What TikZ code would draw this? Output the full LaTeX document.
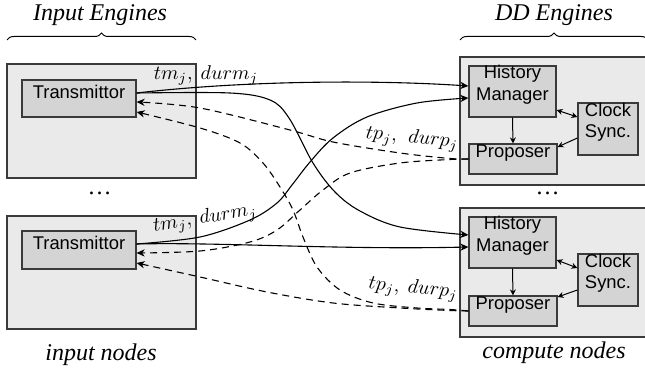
\documentclass[tikz,border=0pt]{standalone}
\usepackage{fontspec}
\setmainfont{Liberation Serif}
\setsansfont{Liberation Sans}
\usetikzlibrary{fit,arrows.meta,decorations.pathreplacing}
\definecolor{outerfill}{HTML}{EAEAEA}
\definecolor{innerfill}{HTML}{D4D4D4}
\definecolor{edgec}{HTML}{3A3A3A}
\begin{document}
\begin{tikzpicture}[x=0.5pt,y=-0.5pt,
 outerbox/.style={draw=edgec, fill=outerfill, line width=0.6pt, inner sep=0pt},
 innerbox/.style={draw=edgec, fill=innerfill, line width=0.6pt, inner sep=0pt, font=\fontsize{9.2}{10.6}\selectfont\sffamily, align=left},
 heading/.style={font=\fontsize{12}{14}\selectfont\itshape, inner sep=0pt},
 lab/.style={font=\fontsize{9.6}{12}\selectfont, inner sep=0pt},
 conn/.style={line width=0.55pt, -{Stealth[length=4pt,width=3.6pt,inset=1.2pt]}},
 back/.style={conn, dash pattern=on 3.5pt off 2.5pt},
 small/.style={line width=0.5pt, -{Stealth[length=3pt,width=3pt]}},
 smalltwo/.style={line width=0.5pt, {Stealth[length=3pt,width=3pt]}-{Stealth[length=3pt,width=3pt]}},
 bracestyle/.style={line width=0.5pt, decorate, decoration={brace, amplitude=3.5pt}}
]
\useasboundingbox (0,0) rectangle (645,373);

% headings and braces
\node[heading] (hIn) at (100,15) {Input Engines};
\node[heading] (hDD) at (554,15) {DD Engines};
\draw[bracestyle] (7,40) -- (196,40);
\draw[bracestyle] (460,40) -- (648,40);

% outer boxes
\node[outerbox, fit={(7,64) (196,178)}] (inA) {};
\node[outerbox, fit={(7,216) (196,329)}] (inB) {};
\node[outerbox, fit={(460,57) (650,185)}] (ddC) {};
\node[outerbox, fit={(460,208) (650,337)}] (ddD) {};

% inner boxes
\node[innerbox, fit={(22,80) (136,117)}] (tA) {Transmittor};
\node[innerbox, fit={(22,231) (136,269)}] (tB) {Transmittor};
\node[innerbox, fit={(469,66) (556,117)}] (hmC) {History\\Manager};
\node[innerbox, fit={(469,144) (557,174)}] (pC) {Proposer};
\node[innerbox, fit={(578,103) (638,155)}] (cC) {Clock\\Sync.};
\node[innerbox, fit={(469,217) (556,268)}] (hmD) {History\\Manager};
\node[innerbox, fit={(469,296) (557,326)}] (pD) {Proposer};
\node[innerbox, fit={(578,254) (638,306)}] (cD) {Clock\\Sync.};

% dots and footers
\node[heading] (dotsL) at (100,193) {\dots};
\node[heading] (dotsR) at (548,193) {\dots};
\node[heading] (fIn) at (101,355) {input nodes};
\node[heading] (fDD) at (554,353) {compute nodes};

% solid connectors
\draw[conn] ([yshift=2.75pt]tA.east) .. controls (250,80) and (380,80) .. ([yshift=2.75pt]hmC.west);
\draw[conn] plot[smooth, tension=0.55] coordinates {([yshift=2.75pt]tA.east) (230,93) (270,100) (289,118) (313,163) (335,192) (360,211) (400,227) ([yshift=3.75pt]hmD.west)};
\draw[conn] plot[smooth, tension=0.55] coordinates {([yshift=3pt]tB.east) (200,237) (250,220) (277,203) (292,185) (310,162) (333,138) (367,117) (417,103) ([yshift=-3.25pt]hmC.west)};
\draw[conn] ([yshift=3pt]tB.east) .. controls (220,242) and (340,250) .. ([yshift=-2.25pt]hmD.west);

% dashed connectors
\draw[back] plot[smooth, tension=0.55] coordinates {(pC.west) (450,158.5) (400,153) (333,142) (290,130) (200,108) ([yshift=-1.75pt]tA.east)};
\draw[back] plot[smooth, tension=0.55] coordinates {(pC.west) (450,159.5) (400,163) (350,173) (323,190) (300,210) (277,230) (250,242) (200,251) ([yshift=-1.5pt]tB.east)};
\draw[back] plot[smooth, tension=0.55] coordinates {(pD.west) (450,309.5) (417,308) (373,303) (340,290) (317,267) (303,237) (293,210) (280,187) (263,163) (240,143) (200,128) ([yshift=-6.75pt]tA.east)};
\draw[back] plot[smooth, tension=0.55] coordinates {(pD.west) (450,310.5) (400,308) (333,303) (267,292) (200,277) ([yshift=-6.5pt]tB.east)};

% labels
\node[lab] (lmA) at (206,75) {$tm_j,\ durm_j$};
\node[lab, rotate=9] (lmB) at (205,219) {$tm_j,\ durm_j$};
\node[lab, rotate=-6] (lpC) at (412,139) {$tp_j,\ \,durp_j$};
\node[lab, rotate=-6] (lpD) at (413,289) {$tp_j,\ durp_j$};

% internal arrows
\draw[small] (hmC.south) -- (pC.north);
\draw[smalltwo] ([yshift=-9.25pt]hmC.east) -- ([yshift=6pt]cC.west);
\draw[small] ([yshift=-4.5pt]cC.west) -- ([yshift=6pt]pC.east);
\draw[small] (hmD.south) -- (pD.north);
\draw[smalltwo] ([yshift=-8.75pt]hmD.east) -- ([yshift=6pt]cD.west);
\draw[small] ([yshift=-5pt]cD.west) -- ([yshift=7pt]pD.east);
\end{tikzpicture}
\end{document}
